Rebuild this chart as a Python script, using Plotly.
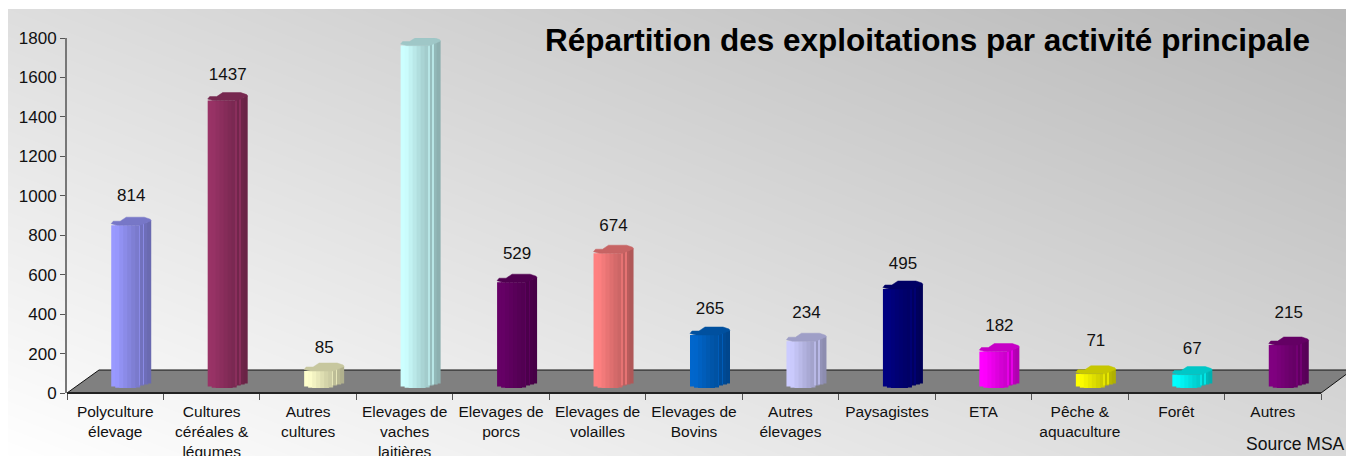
import base64, struct, zlib
import numpy as np
import plotly.graph_objects as go

CATEGORIES = ["Polyculture<br>élevage", "Cultures<br>céréales &<br>légumes", "Autres<br>cultures",
              "Elevages de<br>vaches<br>laitières", "Elevages de<br>porcs", "Elevages de<br>volailles",
              "Elevages de<br>Bovins", "Autres<br>élevages", "Paysagistes", "ETA",
              "Pêche &<br>aquaculture", "Forêt", "Autres"]
VALUES = [814, 1437, 85, 1712, 529, 674, 265, 234, 495, 182, 71, 67, 215]
COLORS = ["#9999FF", "#993366", "#FFFFCC", "#CCFFFF", "#660066", "#FF8080", "#0066CC",
          "#CCCCFF", "#000080", "#FF00FF", "#FFFF00", "#00FFFF", "#800080"]
Y_TICKS = [0, 200, 400, 600, 800, 1000, 1200, 1400, 1600, 1800]
TITLE = "Répartition des exploitations par activité principale"
SOURCE = "Source MSA"
LABEL_LIFT = [28, 25, 22, 23, 27, 26, 25, 27, 24, 25, 32, 25, 31]

W, H = 1346, 456
L, R, T, B = 67, 1321, 38, 393
PXX = (R - L) / 13          # pixels per category
PXY = 0.2                   # pixels per value unit on bar scale
BASE_PY = 388               # pixel row of a zero-height bar


def shade(hex_color, f):
    r, g, b = (int(hex_color[i:i + 2], 16) for i in (1, 3, 5))
    return f"rgb({min(255, round(r * f))},{min(255, round(g * f))},{min(255, round(b * f))})"


def px_x(px):
    return (px - L) / (R - L)


def px_y(py):
    return (B - py) / (B - T)


def gradient_png():
    x0, y0 = 8, 9
    w, h = W - x0, H - y0
    xs = np.arange(w) / (w - 1)
    ys = np.arange(h) / (h - 1)
    gx, gy = np.meshgrid(xs, ys)
    g = 255 - 38 * gx - 33 * (1 - gy)
    g = np.clip(g, 0, 255).astype(np.uint8)
    raw = b"".join(b"\x00" + g[i].tobytes() for i in range(h))

    def chunk(t, d):
        return struct.pack(">I", len(d)) + t + d + struct.pack(">I", zlib.crc32(t + d) & 0xffffffff)

    png = (b"\x89PNG\r\n\x1a\n" + chunk(b"IHDR", struct.pack(">IIBBBBB", w, h, 8, 0, 0, 0, 0))
           + chunk(b"IDAT", zlib.compress(raw, 9)) + chunk(b"IEND", b""))
    return "data:image/png;base64," + base64.b64encode(png).decode()


fig = go.Figure()
idx = list(range(len(VALUES)))

# Invisible trace so the left axis is drawn
fig.add_scatter(x=idx, y=VALUES, mode="none", hoverinfo="skip", showlegend=False)

# Cylinder drawn as narrow shaded staves
slice_w = 4
n_slices = 10
shades = [1.0, 0.99, 0.95, 0.91, 0.87, 0.83, 0.8, 0.74, 0.72, 0.69]
top_raise = [0, 0, 0, 0, 0, 0, 0, 1.5, 3, 4.5]
bot_raise = [1.5, 0.3, 0, 0, 0, 0, 0.5, 2.5, 3.5, 4.5]
for k in range(n_slices):
    fig.add_bar(
        x=idx,
        y=[v + (top_raise[k] - bot_raise[k]) / PXY for v in VALUES],
        base=[bot_raise[k] / PXY] * len(VALUES),
        offset=(-4 + slice_w * k) / PXX,
        width=(slice_w + (1 if k < n_slices - 1 else 0)) / PXX,
        marker=dict(color=[shade(c, shades[k]) for c in COLORS],
                    line=dict(width=0)),
        yaxis="y2", hoverinfo="skip", showlegend=False,
    )

# Thin lighter ribs on the side of each cylinder
for k in (7, 8):
    fig.add_bar(
        x=idx,
        y=[v + (top_raise[k] - bot_raise[k]) / PXY for v in VALUES],
        base=[bot_raise[k] / PXY] * len(VALUES),
        offset=(-4 + slice_w * k) / PXX,
        width=0.7 / PXX,
        marker=dict(color=[shade(c, 0.9) for c in COLORS], line=dict(width=0)),
        yaxis="y2", hoverinfo="skip", showlegend=False,
    )

# Top caps
cap_dx = [0, 2, 9, 15, 33, 39, 40, 29, 6, 0]
cap_dy = [1.5, 4, 4, 8, 8, 6, 4.5, 0, 0, 1.5]
for i, v, c in zip(idx, VALUES, COLORS):
    fig.add_scatter(
        x=[i + (-4 + dx) / PXX for dx in cap_dx],
        y=[v + dy / PXY for dy in cap_dy],
        mode="lines", fill="toself", fillcolor=shade(c, 0.78),
        line=dict(width=0.5, color=shade(c, 0.78)),
        yaxis="y2", hoverinfo="skip", showlegend=False,
    )

# Value labels
fig.add_scatter(
    x=[i + 16 / PXX for i in idx],
    y=[v + lift / PXY for v, lift in zip(VALUES, LABEL_LIFT)],
    mode="text", text=[str(v) for v in VALUES], textposition="middle center",
    textfont=dict(family="Liberation Sans", size=17, color="#111111"),
    yaxis="y2", cliponaxis=False, hoverinfo="skip", showlegend=False,
)

fig.update_layout(
    width=W, height=H,
    margin=dict(l=L, r=W - R, t=T, b=H - B, autoexpand=False),
    paper_bgcolor="white", plot_bgcolor="rgba(0,0,0,0)",
    barmode="overlay",
    font=dict(family="Liberation Sans", color="#111111"),
    title=dict(text=f"<b>{TITLE}</b>", x=545 / W, xanchor="left", y=1 - 40 / H, yanchor="middle",
               font=dict(family="Liberation Sans", size=31.5, color="#000000")),
    xaxis=dict(range=[-0.5, 12.5], tickmode="array", tickvals=idx, ticktext=CATEGORIES,
               tickangle=0, ticks="", showgrid=False, zeroline=False, showline=False,
               tickfont=dict(size=15.5, color="#111111"), ticklabelstandoff=7,
               minor=dict(tickmode="array", tickvals=[i - 0.5 for i in idx] + [12.5],
                          ticks="outside", ticklen=6, tickwidth=1, tickcolor="#555555", showgrid=False)),
    yaxis=dict(range=[0, 1800], tickmode="array", tickvals=Y_TICKS, ticks="outside", ticklen=5,
               tickwidth=1, tickcolor="#555555", showgrid=False, zeroline=False, showline=True,
               linecolor="#777777", linewidth=2, tickfont=dict(size=17, color="#111111")),
    yaxis2=dict(overlaying="y", range=[(BASE_PY - B) / PXY, (BASE_PY - T) / PXY], visible=False),
    images=[dict(source=gradient_png(), xref="paper", yref="paper", x=px_x(8), y=px_y(9),
                 sizex=(W - 8) / (R - L), sizey=(H - 9) / (B - T), sizing="stretch",
                 xanchor="left", yanchor="top", layer="below")],
    shapes=[
        dict(type="path", xref="paper", yref="paper", layer="below",
             path=f"M {px_x(67)} {px_y(393)} L {px_x(99)} {px_y(370)} L {px_x(1352)} {px_y(370)} "
                  f"L {px_x(1321)} {px_y(393)} Z",
             fillcolor="#808080", line=dict(color="#111111", width=1)),
        dict(type="line", xref="paper", yref="paper", layer="below",
             x0=px_x(67), x1=px_x(1321), y0=px_y(393), y1=px_y(393),
             line=dict(color="#222222", width=2)),
    ],
    annotations=[dict(text=SOURCE, xref="paper", yref="paper", x=px_x(1244), y=px_y(444),
                      xanchor="left", yanchor="middle", showarrow=False,
                      font=dict(size=17.5, color="#111111"))],
)

fig.write_html("out.html", config=dict(displayModeBar=False),
               post_script="document.body.style.margin='0';document.body.style.overflow='hidden';")
